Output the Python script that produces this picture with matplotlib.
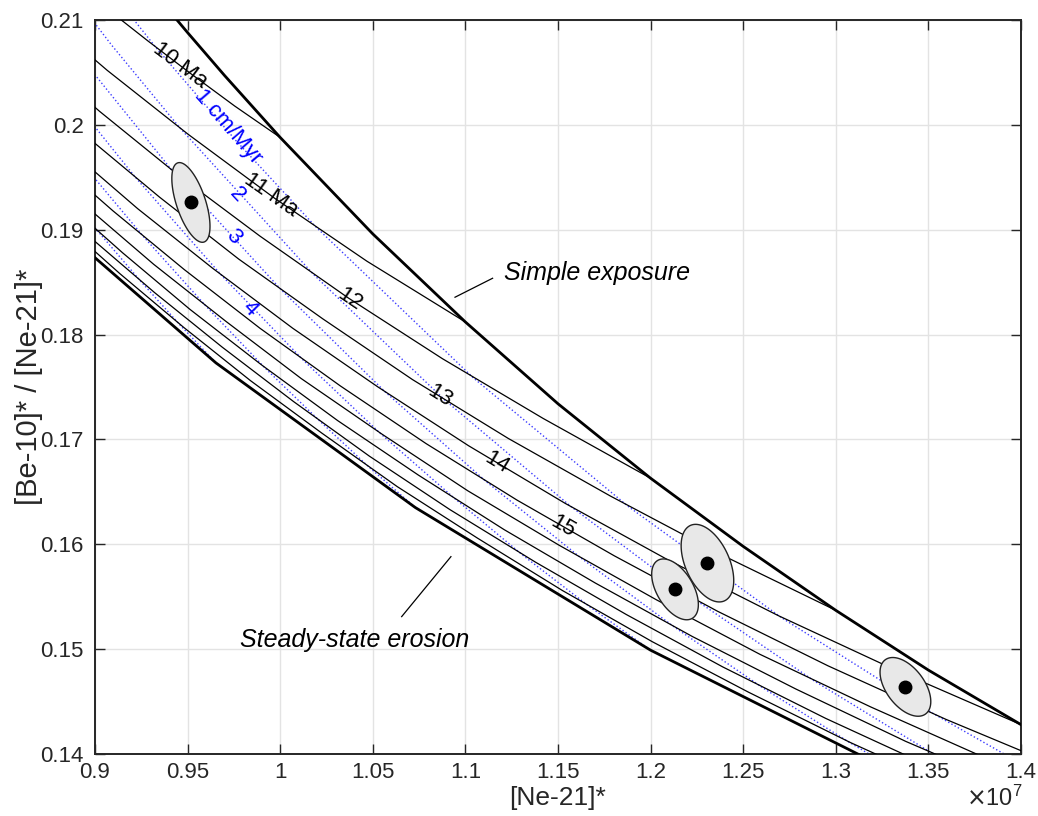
import numpy as np
import matplotlib.pyplot as plt
from matplotlib.ticker import FuncFormatter, MultipleLocator

plt.rcParams['font.family'] = ['Liberation Sans', 'DejaVu Sans']

# [Ne-21]* in units of 1e7, ratio [Be-10]*/[Ne-21]*
# simple exposure curve
se_x = [0.9400, 0.9500, 0.9700, 1.0000, 1.0500, 1.1000, 1.1500, 1.2000, 1.2500, 1.3000, 1.3500, 1.4000]
se_y = [0.2109, 0.2088, 0.2047, 0.1988, 0.1896, 0.1812, 0.1734, 0.1663, 0.1598, 0.1537, 0.1480, 0.1428]

# steady-state erosion curve
ss_x = [0.8735, 0.9653, 1.0730, 1.2000, 1.3503]
ss_y = [0.1914, 0.1773, 0.1635, 0.1499, 0.1366]

# lines of equal total time (Ma)
iso_ages = [10, 11, 12, 13, 14, 15, 16, 17, 18, 19]
iso_x = [
    [1.0000, 0.9754, 0.9516, 0.9286, 0.9063],
    [1.1000, 1.0468, 0.9970, 0.9503, 0.9066, 0.8656],
    [1.2000, 1.1420, 1.0876, 1.0367, 0.9890, 0.9443, 0.9024, 0.8630],
    [1.3000, 1.2371, 1.1783, 1.1231, 1.0715, 1.0230, 0.9776, 0.9349, 0.8948],
    [1.4000, 1.3323, 1.2689, 1.2095, 1.1539, 1.1017, 1.0528, 1.0068, 0.9637, 0.9231, 0.8850],
    [1.4274, 1.3595, 1.2959, 1.2363, 1.1804, 1.1280, 1.0788, 1.0325, 0.9891, 0.9482, 0.9097, 0.8735],
    [1.4502, 1.3823, 1.3187, 1.2591, 1.2032, 1.1507, 1.1013, 1.0550, 1.0114, 0.9704, 0.9317, 0.8954],
    [1.4011, 1.3378, 1.2784, 1.2226, 1.1702, 1.1209, 1.0746, 1.0310, 0.9900, 0.9513, 0.9149, 0.8805],
    [1.4165, 1.3536, 1.2945, 1.2390, 1.1869, 1.1378, 1.0917, 1.0482, 1.0073, 0.9687, 0.9322, 0.8979],
    [1.3664, 1.3078, 1.2528, 1.2010, 1.1523, 1.1064, 1.0632, 1.0225, 0.9840, 0.9478, 0.9135, 0.8811],
]
iso_y = [
    [0.1988, 0.2018, 0.2049, 0.2080, 0.2111],
    [0.1812, 0.1870, 0.1930, 0.1991, 0.2052, 0.2114],
    [0.1663, 0.1720, 0.1777, 0.1835, 0.1894, 0.1953, 0.2013, 0.2074],
    [0.1537, 0.1591, 0.1646, 0.1701, 0.1757, 0.1815, 0.1872, 0.1931, 0.1990],
    [0.1428, 0.1480, 0.1532, 0.1585, 0.1639, 0.1694, 0.1750, 0.1806, 0.1863, 0.1920, 0.1978],
    [0.1383, 0.1433, 0.1484, 0.1536, 0.1589, 0.1642, 0.1696, 0.1751, 0.1806, 0.1862, 0.1918, 0.1974],
    [0.1346, 0.1395, 0.1445, 0.1495, 0.1547, 0.1599, 0.1651, 0.1705, 0.1758, 0.1813, 0.1867, 0.1922],
    [0.1364, 0.1412, 0.1462, 0.1512, 0.1563, 0.1614, 0.1666, 0.1718, 0.1771, 0.1824, 0.1878, 0.1932],
    [0.1338, 0.1386, 0.1434, 0.1483, 0.1533, 0.1583, 0.1633, 0.1684, 0.1736, 0.1788, 0.1840, 0.1892],
    [0.1364, 0.1411, 0.1459, 0.1507, 0.1556, 0.1606, 0.1655, 0.1706, 0.1756, 0.1807, 0.1858, 0.1909],
]

# lines of equal erosion rate (cm/Myr)
ero_rates = [1, 2, 3, 4, 5, 6]
ero_x = [
    [0.9067, 0.9328, 0.9761, 1.0191, 1.1041, 1.1880, 1.2707, 1.3522, 1.4326],
    [0.8715, 0.9090, 0.9459, 1.0182, 1.0886, 1.1570, 1.2234, 1.2881, 1.3509, 1.4120],
    [0.8798, 0.9414, 1.0004, 1.0569, 1.1111, 1.1631, 1.2129, 1.2607, 1.3065, 1.3503],
    [0.8723, 0.9218, 0.9686, 1.0128, 1.0545, 1.0940, 1.1314, 1.1667, 1.2000],
    [0.8904, 0.9264, 0.9600, 0.9913, 1.0205, 1.0477, 1.0730],
    [0.8774, 0.9023, 0.9251, 0.9460, 0.9653],
]
ero_y = [
    [0.2132, 0.2074, 0.1985, 0.1903, 0.1759, 0.1636, 0.1530, 0.1439, 0.1358],
    [0.2162, 0.2076, 0.1997, 0.1857, 0.1738, 0.1636, 0.1548, 0.1470, 0.1402, 0.1341],
    [0.2092, 0.1957, 0.1843, 0.1745, 0.1660, 0.1586, 0.1521, 0.1463, 0.1412, 0.1366],
    [0.2059, 0.1950, 0.1856, 0.1775, 0.1705, 0.1644, 0.1589, 0.1541, 0.1499],
    [0.1969, 0.1893, 0.1827, 0.1769, 0.1719, 0.1674, 0.1635],
    [0.1951, 0.1897, 0.1850, 0.1809, 0.1773],
]

# samples: centre, half-width in x, half-height in y, correlation
smp_x = [0.9518, 1.2132, 1.2307, 1.3376]
smp_y = [0.1926, 0.1557, 0.1582, 0.1464]
smp_sx = [0.0103, 0.0126, 0.0142, 0.0137]
smp_sy = [0.0038, 0.0029, 0.0037, 0.0028]
smp_rho = [-0.60, -0.50, -0.45, -0.50]

# labels on lines
iso_lab = ['10 Ma', '11 Ma', '12', '13', '14', '15']
iso_lab_x = [0.9459, 0.9950, 1.0377, 1.0863, 1.1170, 1.1527]
iso_lab_y = [0.2057, 0.1933, 0.1834, 0.1741, 0.1678, 0.1617]
iso_lab_rot = [-37, -35, -34, -32, -31, -30]
ero_lab = ['1 cm/Myr', '2', '3', '4']
ero_lab_x = [0.9718, 0.9767, 0.9745, 0.9837]
ero_lab_y = [0.1998, 0.1933, 0.1893, 0.1825]
ero_lab_rot = [-49, -47, -47, -46]

fig = plt.figure(figsize=(10.38, 8.16), dpi=100)
ax = fig.add_axes([0.0915, 0.0760, 0.8921, 0.8995])

for x, y in zip(ero_x, ero_y):
    ax.plot(x, y, ':', color='#3c3cff', lw=1.0, zorder=2)
for x, y in zip(iso_x, iso_y):
    ax.plot(x, y, '-', color='k', lw=0.9, zorder=3)
ax.plot(se_x, se_y, '-', color='k', lw=2.0, zorder=4)
ax.plot(ss_x, ss_y, '-', color='k', lw=2.0, zorder=4)

t = np.linspace(0, 2 * np.pi, 200)
for cx, cy, sx, sy, r in zip(smp_x, smp_y, smp_sx, smp_sy, smp_rho):
    ex = cx + sx * np.cos(t)
    ey = cy + sy * (r * np.cos(t) + np.sqrt(1 - r ** 2) * np.sin(t))
    ax.fill(ex, ey, facecolor='#e8e8e8', edgecolor='#222222', lw=1.0, zorder=5)
ax.plot(smp_x, smp_y, 'o', color='k', ms=9, zorder=6)

for s, x, y, r in zip(iso_lab, iso_lab_x, iso_lab_y, iso_lab_rot):
    ax.text(x, y, s, rotation=r, rotation_mode='anchor', ha='center', va='center',
            fontsize=16, color='k', zorder=7)
for s, x, y, r in zip(ero_lab, ero_lab_x, ero_lab_y, ero_lab_rot):
    ax.text(x, y, s, rotation=r, rotation_mode='anchor', ha='center', va='center',
            fontsize=16, color='#0000ff', zorder=7)

# annotations
ax.plot([1.0944, 1.1147], [0.18356, 0.18537], color='k', lw=0.9)
ax.text(1.1209, 0.1859, 'Simple exposure', style='italic', fontsize=18, ha='left', va='center')
ax.plot([1.0656, 1.0922], [0.15310, 0.15882], color='k', lw=0.9)
ax.text(1.0404, 0.1509, 'Steady-state erosion', style='italic', fontsize=18, ha='center', va='center')

ax.set_xlim(0.9, 1.4)
ax.set_ylim(0.14, 0.21)
ax.xaxis.set_major_locator(MultipleLocator(0.05))
ax.yaxis.set_major_locator(MultipleLocator(0.01))
fmt = FuncFormatter(lambda v, p: '%g' % round(v, 3))
ax.xaxis.set_major_formatter(fmt)
ax.yaxis.set_major_formatter(fmt)
ax.grid(True, color='#e3e3e3', lw=1.0, zorder=0)
ax.set_axisbelow(True)
ax.tick_params(direction='in', length=7, width=1.0, top=True, right=True,
               labelsize=16, colors='#262626', pad=8)
ax.tick_params(axis='x', pad=6)
for sp in ax.spines.values():
    sp.set_color('#262626')
    sp.set_linewidth(1.4)

ax.set_xlabel('[Ne-21]*', fontsize=19, color='#262626', labelpad=2)
ax.set_ylabel('[Be-10]* / [Ne-21]*', fontsize=21, color='#262626', labelpad=-2)
fig.text(0.985, 0.006, r'$\times\mathregular{10^{7}}$', ha='right', va='bottom',
         fontsize=17, color='#262626')

fig.savefig('out.png', dpi=100)
